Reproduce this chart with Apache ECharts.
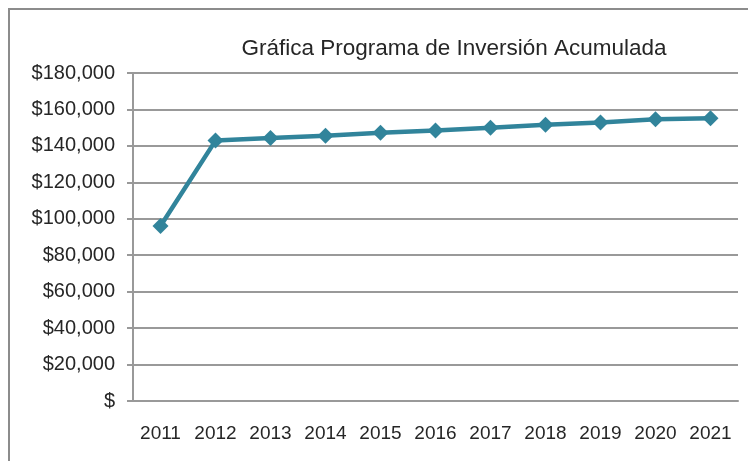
<!DOCTYPE html>
<html>
<head>
<meta charset="utf-8">
<script src="https://cdn.jsdelivr.net/npm/echarts@6/dist/echarts.min.js"></script>
<style>
  html, body { margin: 0; padding: 0; background: #fff; }
  #frame { position: absolute; left: 8px; top: 8px; width: 760px; height: 470px;
           border-left: 2px solid #8c8c8c; border-top: 2px solid #8c8c8c; }
  #chart { position: absolute; left: 0; top: 0; width: 748px; height: 461px; }
</style>
</head>
<body>
<div id="frame"></div>
<div id="chart"></div>
<script>
// Accumulated investment per year (USD)
const years = ['2011', '2012', '2013', '2014', '2015', '2016', '2017', '2018', '2019', '2020', '2021'];
const accumulated = [96000, 142900, 144300, 145600, 147200, 148500, 150000, 151600, 152900, 154600, 155100];
const yMax = 180000;
const yStep = 20000;

function money(v) {
  if (v === 0) return '$';
  return '$' + String(v).replace(/\B(?=(\d{3})+(?!\d))/g, ',');
}

const chart = echarts.init(document.getElementById('chart'), null, { renderer: 'canvas' });
chart.setOption({
  animation: false,
  title: {
    text: 'Gráfica Programa de Inversión Acumulada',
    left: 449, top: 32, textAlign: 'center',
    textStyle: { fontFamily: 'Liberation Sans', fontSize: 22.5, fontWeight: 'normal', color: '#262626' }
  },
  grid: { left: 133, right: 10, top: 73, bottom: 60 },
  xAxis: {
    type: 'category',
    data: years,
    boundaryGap: true,
    axisLine: { lineStyle: { color: '#999', width: 2 } },
    axisTick: { show: false },
    axisLabel: { margin: 23, fontFamily: 'Liberation Sans', fontSize: 19, color: '#262626' }
  },
  yAxis: {
    type: 'value',
    min: 0, max: yMax, interval: yStep,
    axisLine: { show: true, lineStyle: { color: '#999', width: 2 } },
    axisTick: { show: true, length: 6, lineStyle: { color: '#999', width: 2 } },
    splitLine: { lineStyle: { color: '#999', width: 2 } },
    axisLabel: { margin: 18, fontFamily: 'Liberation Sans', fontSize: 20, color: '#262626', formatter: money }
  },
  series: [{
    type: 'line',
    data: accumulated,
    symbol: 'diamond',
    symbolSize: 16,
    lineStyle: { color: '#31849b', width: 4.5 },
    itemStyle: { color: '#31849b' }
  }]
});
</script>
</body>
</html>
